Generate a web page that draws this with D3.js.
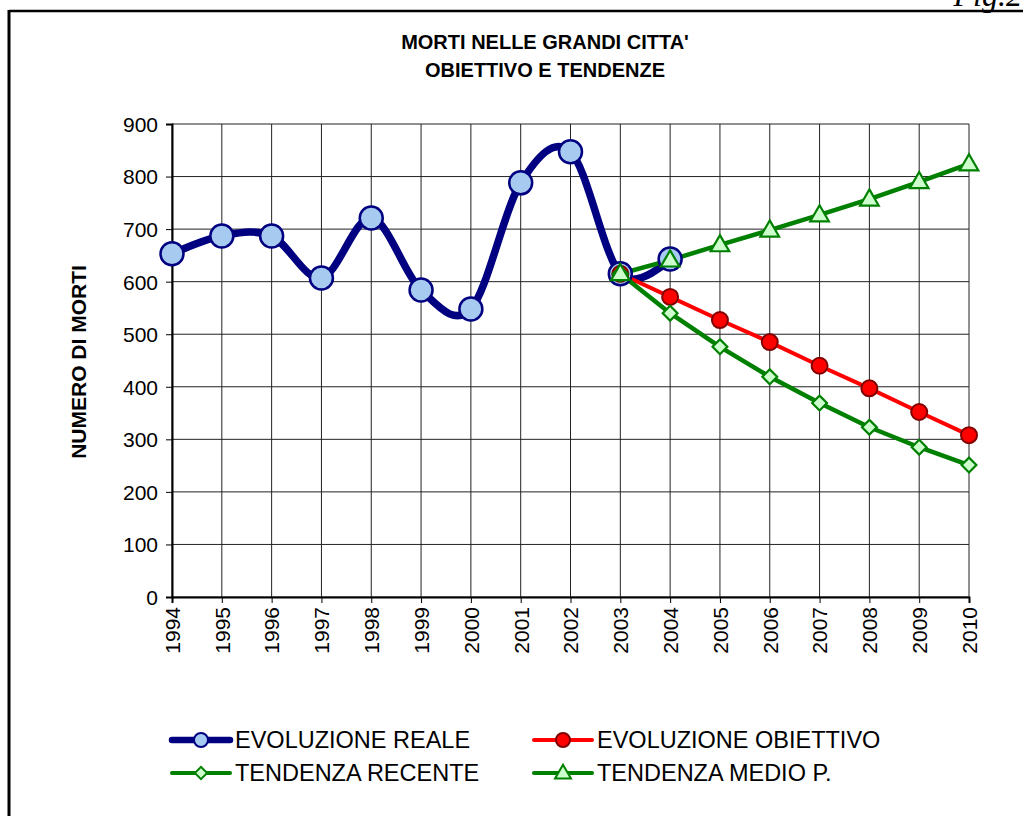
<!DOCTYPE html>
<html>
<head>
<meta charset="utf-8">
<style>
body { margin:0; background:#fff; }
svg { display:block; font-family:"Liberation Sans", Arial, sans-serif; }
</style>
<script src="https://cdn.jsdelivr.net/npm/d3@7"></script>
</head>
<body>
<svg id="chart" width="1023" height="816"></svg>
<script>
var years = [1994,1995,1996,1997,1998,1999,2000,2001,2002,2003,2004,2005,2006,2007,2008,2009,2010];
var realYears = [1994,1995,1996,1997,1998,1999,2000,2001,2002,2003,2004];
var realVals  = [653,687,687,607,721,584,548,788,847,615,643];
var projYears = [2003,2004,2005,2006,2007,2008,2009,2010];
var obiettivo = [615,571,527,485,440,397,352,308];
var recente   = [615,540,476,419,369,323,285,251];
var medio     = [615,641,670,698,727,757,790,824];
var yTicks = [0,100,200,300,400,500,600,700,800,900];

var svg = d3.select("#chart");

// page frame
svg.append("line").attr("x1",9).attr("x2",1023).attr("y1",11).attr("y2",11)
   .attr("stroke","#000").attr("stroke-width",2.5);
svg.append("line").attr("x1",9).attr("x2",9).attr("y1",10).attr("y2",816)
   .attr("stroke","#000").attr("stroke-width",3);
svg.append("text").attr("x",1022).attr("y",6).attr("text-anchor","end")
   .attr("font-family","Liberation Serif, serif").attr("font-style","italic")
   .attr("font-size",32).text("Fig.2");

var x = d3.scaleLinear().domain([1994,2010]).range([172,969]);
var y = d3.scaleLinear().domain([0,900]).range([597,124]);

// grid
svg.append("g").selectAll("line").data(yTicks).join("line")
   .attr("x1",x(1994)).attr("x2",x(2010))
   .attr("y1",d=>y(d)).attr("y2",d=>y(d))
   .attr("stroke","#222").attr("stroke-width",1);
svg.append("g").selectAll("line").data(years).join("line")
   .attr("x1",d=>x(d)).attr("x2",d=>x(d))
   .attr("y1",y(0)).attr("y2",y(900))
   .attr("stroke","#222").attr("stroke-width",1);

// axes
var yAxis = svg.append("g").attr("transform","translate("+x(1994)+",0)")
   .call(d3.axisLeft(y).tickValues(yTicks).tickSize(6).tickPadding(8));
var xAxis = svg.append("g").attr("transform","translate(0,"+y(0)+")")
   .call(d3.axisBottom(x).tickValues(years).tickFormat(d3.format("d")).tickSize(6));
[yAxis,xAxis].forEach(function(a){
  a.select(".domain").attr("stroke","#000").attr("stroke-width",2);
  a.selectAll(".tick line").attr("stroke","#000");
  a.selectAll("text").attr("font-size",21).attr("fill","#000")
   .attr("font-family","Liberation Sans, Arial, sans-serif");
});
yAxis.selectAll("text").attr("dy","0.35em");
xAxis.selectAll("text")
   .attr("transform","rotate(-90)")
   .attr("text-anchor","end")
   .attr("x",-10).attr("y",0).attr("dy","0.35em");

// titles
svg.append("text").attr("x",545).attr("y",49).attr("text-anchor","middle")
   .attr("font-weight","bold").attr("font-size",20).text("MORTI NELLE GRANDI CITTA'");
svg.append("text").attr("x",545).attr("y",77).attr("text-anchor","middle")
   .attr("font-weight","bold").attr("font-size",20).text("OBIETTIVO E TENDENZE");
svg.append("text").attr("transform","translate(86,362) rotate(-90)")
   .attr("text-anchor","middle").attr("font-weight","bold").attr("font-size",21)
   .text("NUMERO DI MORTI");

var dark = "#000080", green = "#008000";

function series(xs, vs, color, width, curve) {
  var line = d3.line().x((d,i)=>x(xs[i])).y(d=>y(d)).curve(curve || d3.curveLinear);
  svg.append("path").datum(vs).attr("d",line).attr("fill","none")
     .attr("stroke",color).attr("stroke-width",width)
     .attr("stroke-linejoin","round").attr("stroke-linecap","round");
}
function circles(xs, vs, r, fill, stroke, sw) {
  svg.append("g").selectAll("circle").data(vs).join("circle")
     .attr("cx",(d,i)=>x(xs[i])).attr("cy",d=>y(d)).attr("r",r)
     .attr("fill",fill).attr("stroke",stroke).attr("stroke-width",sw);
}
var tri = d3.symbol().type(d3.symbolTriangle).size(150);
var dia = d3.symbol().type(d3.symbolSquare).size(110);
function symbols(xs, vs, gen, rot, dy) {
  svg.append("g").selectAll("path").data(vs).join("path")
     .attr("d",gen)
     .attr("transform",(d,i)=>"translate("+x(xs[i])+","+(y(d)+dy)+") rotate("+rot+")")
     .attr("fill","#ccffcc").attr("stroke",green).attr("stroke-width",2.2);
}

// real series (smoothed)
series(realYears, realVals, dark, 7.5, d3.curveCatmullRom.alpha(0));
series(projYears, obiettivo, "#ff0000", 4);
series(projYears, recente, green, 4.5);
series(projYears, medio, green, 4.5);
circles(realYears, realVals, 11.5, "#a6caf0", dark, 2.5);
circles(projYears, obiettivo, 8, "#ff0000", "#800000", 2);
symbols(projYears, recente, dia, 45, 0);
symbols(projYears, medio, tri, 0, 1);

// legend
var legend = [
  {label:"EVOLUZIONE REALE", lx:170, ly:740, color:dark, w:6.5, mark:"big"},
  {label:"EVOLUZIONE OBIETTIVO", lx:532, ly:740, color:"#ff0000", w:4, mark:"red"},
  {label:"TENDENZA RECENTE", lx:170, ly:773, color:green, w:4, mark:"dia"},
  {label:"TENDENZA MEDIO P.", lx:532, ly:773, color:green, w:4, mark:"tri"}
];
var lg = svg.append("g").selectAll("g").data(legend).join("g")
   .attr("transform",d=>"translate("+d.lx+","+d.ly+")");
lg.append("line").attr("x1",2).attr("x2",60).attr("stroke",d=>d.color)
  .attr("stroke-width",d=>d.w).attr("stroke-linecap","round");
lg.each(function(d){
  var g = d3.select(this);
  if (d.mark=="big") g.append("circle").attr("cx",31).attr("r",7).attr("fill","#a6caf0").attr("stroke",dark).attr("stroke-width",2);
  if (d.mark=="red") g.append("circle").attr("cx",31).attr("r",7).attr("fill","#ff0000").attr("stroke","#800000").attr("stroke-width",2);
  if (d.mark=="dia") g.append("path").attr("d",d3.symbol().type(d3.symbolSquare).size(75))
       .attr("transform","translate(31,0) rotate(45)").attr("fill","#ccffcc").attr("stroke",green).attr("stroke-width",2);
  if (d.mark=="tri") g.append("path").attr("d",d3.symbol().type(d3.symbolTriangle).size(110))
       .attr("transform","translate(31,1)").attr("fill","#ccffcc").attr("stroke",green).attr("stroke-width",2);
});
lg.append("text").attr("x",65).attr("dy","0.35em").attr("font-size",23.5).text(d=>d.label);
</script>
</body>
</html>
